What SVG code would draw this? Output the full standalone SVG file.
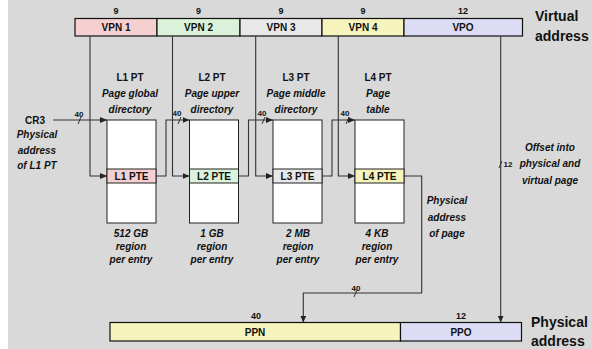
<svg xmlns="http://www.w3.org/2000/svg" width="592" height="349" viewBox="0 0 592 349">
<defs>
<marker id="ah" markerUnits="userSpaceOnUse" markerWidth="7" markerHeight="6" refX="7" refY="3" orient="auto">
<path d="M0,0 L7,3 L0,6 z" fill="#222"/>
</marker>
</defs>
<style>
text{font-family:"Liberation Sans",Arial,sans-serif;font-weight:bold;fill:#111;text-anchor:middle}
.f{font-size:10px}
.s{font-size:9px}
.t{font-size:8px}
.i{font-size:10px;font-style:italic}
.big{font-size:14px;text-anchor:start}
.fld{stroke:#111;stroke-width:1.2}
.pt{fill:#fff;stroke:#222;stroke-width:1}
.c{fill:none;stroke:#333;stroke-width:1.1}
.sl{stroke:#333;stroke-width:1}
</style>
<rect x="8" y="0" width="584" height="349" fill="#d9d9d9"/>

<g id="virtual-address">
<rect class="fld" x="75" y="18.5" width="82" height="17.5" fill="#f6d0d0"/>
<rect class="fld" x="157" y="18.5" width="83" height="17.5" fill="#d9f2d9"/>
<rect class="fld" x="240" y="18.5" width="82" height="17.5" fill="#e8e8e8"/>
<rect class="fld" x="322" y="18.5" width="82" height="17.5" fill="#f6f4bc"/>
<rect class="fld" x="404" y="18.5" width="118.5" height="17.5" fill="#dcdcf4"/>
<text class="s" x="116" y="14">9</text>
<text class="s" x="198.5" y="14">9</text>
<text class="s" x="281" y="14">9</text>
<text class="s" x="363" y="14">9</text>
<text class="s" x="463" y="14">12</text>
<text class="f" x="116" y="31">VPN 1</text>
<text class="f" x="198.5" y="31">VPN 2</text>
<text class="f" x="281" y="31">VPN 3</text>
<text class="f" x="363" y="31">VPN 4</text>
<text class="f" x="463" y="31">VPO</text>
<text class="big" x="535" y="21">Virtual</text>
<text class="big" x="535" y="41">address</text>
</g>

<g id="cr3">
<text class="f" x="35" y="124">CR3</text>
<text class="i" x="37" y="138">Physical</text>
<text class="i" x="37" y="154">address</text>
<text class="i" x="37" y="169">of L1 PT</text>
</g>

<g id="l1pt">
<text class="f" x="130" y="81">L1 PT</text>
<text class="i" x="130" y="97">Page global</text>
<text class="i" x="130" y="113">directory</text>
<rect class="pt" x="107" y="120" width="49" height="103"/>
<rect class="pt" x="107" y="169" width="49" height="14" fill="#f6d0d0" style="fill:#f6d0d0"/>
<text class="f" x="131.5" y="180">L1 PTE</text>
<text class="i" x="131" y="237">512 GB</text>
<text class="i" x="131" y="250">region</text>
<text class="i" x="131" y="263">per entry</text>
</g>

<g id="l2pt">
<text class="f" x="212" y="81">L2 PT</text>
<text class="i" x="212" y="97">Page upper</text>
<text class="i" x="212" y="113">directory</text>
<rect class="pt" x="189.5" y="120" width="49" height="103"/>
<rect class="pt" x="189.5" y="169" width="49" height="14" style="fill:#d9f2d9"/>
<text class="f" x="214" y="180">L2 PTE</text>
<text class="i" x="212" y="237">1 GB</text>
<text class="i" x="212" y="250">region</text>
<text class="i" x="212" y="263">per entry</text>
</g>

<g id="l3pt">
<text class="f" x="296" y="81">L3 PT</text>
<text class="i" x="296" y="97">Page middle</text>
<text class="i" x="296" y="113">directory</text>
<rect class="pt" x="273" y="120" width="49" height="103"/>
<rect class="pt" x="273" y="169" width="49" height="14" style="fill:#e8e8e8"/>
<text class="f" x="297.5" y="180">L3 PTE</text>
<text class="i" x="298" y="237">2 MB</text>
<text class="i" x="298" y="250">region</text>
<text class="i" x="298" y="263">per entry</text>
</g>

<g id="l4pt">
<text class="f" x="378" y="81">L4 PT</text>
<text class="i" x="378" y="97">Page</text>
<text class="i" x="378" y="113">table</text>
<rect class="pt" x="355" y="120" width="49" height="103"/>
<rect class="pt" x="355" y="169" width="49" height="14" style="fill:#f6f4bc"/>
<text class="f" x="379.5" y="180">L4 PTE</text>
<text class="i" x="377" y="237">4 KB</text>
<text class="i" x="377" y="250">region</text>
<text class="i" x="377" y="263">per entry</text>
</g>

<g id="page-address-label">
<text class="i" x="447" y="204">Physical</text>
<text class="i" x="447" y="221">address</text>
<text class="i" x="447" y="237">of page</text>
</g>

<g id="offset-label">
<text class="i" x="550" y="151">Offset into</text>
<text class="i" x="550" y="167">physical and</text>
<text class="i" x="550" y="184">virtual page</text>
</g>

<g id="physical-address">
<rect class="fld" x="110" y="322.5" width="290.5" height="18.5" fill="#f6f4bc"/>
<rect class="fld" x="400.5" y="322.5" width="121" height="18.5" fill="#dcdcf4"/>
<text class="s" x="256" y="319">40</text>
<text class="s" x="461" y="319">12</text>
<text class="f" x="255" y="336">PPN</text>
<text class="f" x="461" y="336">PPO</text>
<text class="big" x="531" y="327">Physical</text>
<text class="big" x="531" y="346">address</text>
</g>

<g id="connectors">
<path class="c" d="M53,120 H107" marker-end="url(#ah)"/>
<line class="sl" x1="78" y1="124" x2="81" y2="117"/>
<text class="t" x="79" y="117">40</text>

<path class="c" d="M90,36 V176 H107" marker-end="url(#ah)"/>
<path class="c" d="M156,176 H166 V120 H189.5" marker-end="url(#ah)"/>
<line class="sl" x1="178" y1="124" x2="181" y2="117"/>
<text class="t" x="177" y="116">40</text>

<path class="c" d="M172.5,36 V176 H189.5" marker-end="url(#ah)"/>
<path class="c" d="M238.5,176 H248.5 V120 H273" marker-end="url(#ah)"/>
<line class="sl" x1="262" y1="124" x2="265" y2="117"/>
<text class="t" x="262" y="116">40</text>

<path class="c" d="M255.7,36 V176 H273" marker-end="url(#ah)"/>
<path class="c" d="M322,176 H332 V120 H355" marker-end="url(#ah)"/>
<line class="sl" x1="346" y1="124" x2="349" y2="117"/>
<text class="t" x="345" y="116">40</text>

<path class="c" d="M338.3,36 V176 H355" marker-end="url(#ah)"/>
<path class="c" d="M404,176 H421.7 V293 H303.3 V322.5" marker-end="url(#ah)"/>
<line class="sl" x1="354" y1="297" x2="357" y2="290"/>
<text class="t" x="356" y="291">40</text>

<path class="c" d="M500.7,36 V322.5" marker-end="url(#ah)"/>
<line class="sl" x1="499" y1="168" x2="502" y2="161"/>
<text class="t" x="508" y="167">12</text>
</g>
</svg>
